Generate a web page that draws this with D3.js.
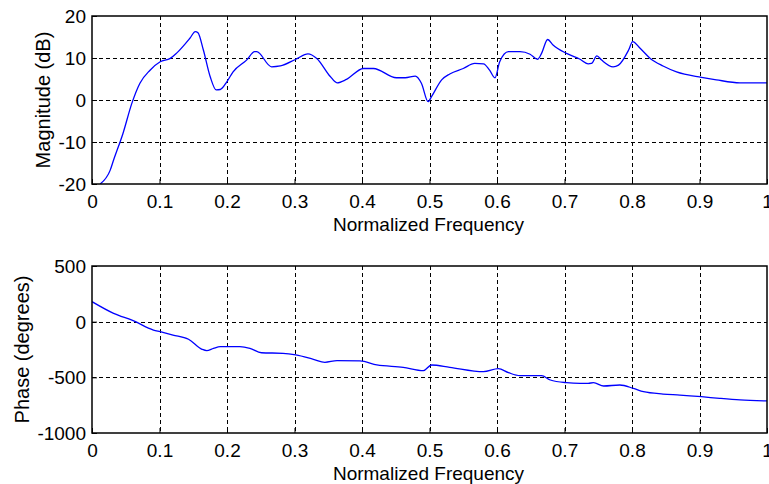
<!DOCTYPE html>
<html>
<head>
<meta charset="utf-8">
<script src="https://cdn.jsdelivr.net/npm/d3@7"></script>
<style>
html,body{margin:0;padding:0;background:#fff;}
svg{display:block;}
text{font-family:"Liberation Sans",Arial,sans-serif;fill:#000;}
</style>
</head>
<body>
<svg id="chart" width="769" height="484"></svg>
<script>
// ---- Data ----
const freqTicks = [0,0.1,0.2,0.3,0.4,0.5,0.6,0.7,0.8,0.9,1];
const freqTickLabels = ["0","0.1","0.2","0.3","0.4","0.5","0.6","0.7","0.8","0.9","1"];
const magTicks = [-20,-10,0,10,20];
const magTickLabels = ["-20","-10","0","10","20"];
const phaseTicks = [-1000,-500,0,500];
const phaseTickLabels = ["-1000","-500","0","500"];

const magFreq = [0.012,0.027,0.032,0.046,0.059,0.071,0.086,0.101,0.116,0.125,0.145,0.153,0.157,0.165,0.175,0.184,0.190,0.200,0.209,0.229,0.241,0.244,0.266,0.279,0.302,0.320,0.333,0.353,0.363,0.377,0.402,0.417,0.451,0.464,0.479,0.488,0.498,0.503,0.518,0.530,0.550,0.567,0.580,0.589,0.597,0.604,0.617,0.634,0.649,0.660,0.666,0.675,0.683,0.703,0.723,0.735,0.740,0.748,0.755,0.772,0.780,0.795,0.801,0.812,0.827,0.846,0.866,0.903,0.925,0.960,1.0];
const magDb = [-20,-16.7,-14.3,-7.9,-0.8,4.0,7.1,9.1,9.9,11.1,14.7,16.3,16.0,11.9,5.6,2.4,2.5,4.4,6.7,9.5,11.5,11.5,7.9,8.1,9.7,11.0,9.9,5.6,4.1,4.9,7.5,7.5,5.3,5.3,5.7,4.0,-0.4,0.8,4.8,6.2,7.5,8.7,8.6,7.1,5.3,9.1,11.5,11.5,10.9,9.7,11.1,14.4,13.1,11.1,9.7,8.6,8.7,10.5,9.5,7.9,8.3,11.9,13.9,12.3,9.9,8.1,6.7,5.4,4.8,4.1,4.1];

const phaseFreq = [0,0.032,0.061,0.091,0.101,0.120,0.143,0.163,0.170,0.180,0.190,0.219,0.234,0.251,0.283,0.302,0.328,0.345,0.363,0.397,0.422,0.461,0.491,0.503,0.530,0.580,0.602,0.617,0.634,0.666,0.679,0.703,0.723,0.735,0.743,0.758,0.782,0.802,0.817,0.846,0.871,0.903,0.930,0.960,1.0];
const phaseDeg = [180,75,9,-75,-90,-120,-158,-248,-260,-240,-225,-225,-240,-279,-284,-299,-338,-365,-350,-353,-389,-410,-440,-389,-410,-449,-422,-458,-485,-485,-524,-548,-554,-554,-548,-578,-569,-599,-629,-650,-659,-674,-689,-703,-712];

// ---- Drawing ----
const svg = d3.select("#chart");
const FONT = 19;
const YLABEL_FONT = 20;

function panel(opts){
  const {top,bottom,left,right,yDomain,yTicks,yTickLabels,xs,ys,ylabel,ylabelX} = opts;
  const x = d3.scaleLinear().domain([0,1]).range([left,right]);
  const y = d3.scaleLinear().domain(yDomain).range([bottom,top]);
  const g = svg.append("g");

  // grid
  const grid = g.append("g").attr("stroke","#000").attr("stroke-width",1).attr("stroke-dasharray","4,3").attr("shape-rendering","crispEdges");
  freqTicks.slice(1,-1).forEach(t=>{
    grid.append("line").attr("x1",Math.round(x(t))+0.5).attr("x2",Math.round(x(t))+0.5).attr("y1",top).attr("y2",bottom);
  });
  yTicks.slice(1,-1).forEach(t=>{
    grid.append("line").attr("y1",Math.round(y(t))+0.5).attr("y2",Math.round(y(t))+0.5).attr("x1",left).attr("x2",right);
  });

  // data line
  const clipId = "clip"+top;
  svg.append("clipPath").attr("id",clipId).append("rect").attr("x",left).attr("y",top).attr("width",right-left).attr("height",bottom-top);
  const pts = xs.map((v,i)=>[v,ys[i]]);
  g.append("path").datum(pts)
    .attr("clip-path","url(#"+clipId+")")
    .attr("fill","none").attr("stroke","#0000ff").attr("stroke-width",1.3)
    .attr("d", d3.line().x(d=>x(d[0])).y(d=>y(d[1])).curve(d3.curveMonotoneX));

  // axes (inward ticks, MATLAB style)
  const axB = d3.axisBottom(x).tickValues(freqTicks).tickFormat((d,i)=>freqTickLabels[i]).tickSizeInner(-5).tickSizeOuter(0).tickPadding(11);
  const axL = d3.axisLeft(y).tickValues(yTicks).tickFormat((d,i)=>yTickLabels[i]).tickSizeInner(-5).tickSizeOuter(0).tickPadding(6);
  const gb = g.append("g").attr("transform",`translate(0,${bottom})`).call(axB);
  const gl = g.append("g").attr("transform",`translate(${left},0)`).call(axL);
  [gb,gl].forEach(a=>{
    a.select(".domain").remove();
    a.selectAll("line").attr("stroke","#000");
    a.selectAll("text").attr("font-size",FONT).attr("font-family","'Liberation Sans',Arial,sans-serif").attr("fill","#000");
  });
  gl.selectAll("text").attr("dy","0.35em");

  // frame
  g.append("rect").attr("x",left).attr("y",top).attr("width",right-left).attr("height",bottom-top)
    .attr("fill","none").attr("stroke","#000").attr("stroke-width",1.5);

  // labels
  g.append("text").attr("x",(left+right)/2-1).attr("y",bottom+47)
    .attr("text-anchor","middle").attr("font-size",FONT).text("Normalized Frequency");
  g.append("text").attr("transform",`translate(${ylabelX},${(top+bottom)/2}) rotate(-90)`)
    .attr("text-anchor","middle").attr("dy","0.35em").attr("font-size",YLABEL_FONT).text(ylabel);
}

panel({top:16,bottom:184,left:92,right:767,yDomain:[-20,20],yTicks:magTicks,yTickLabels:magTickLabels,xs:magFreq,ys:magDb,ylabel:"Magnitude (dB)",ylabelX:43});
panel({top:266,bottom:433,left:92,right:767,yDomain:[-1000,500],yTicks:phaseTicks,yTickLabels:phaseTickLabels,xs:phaseFreq,ys:phaseDeg,ylabel:"Phase (degrees)",ylabelX:22});
</script>
</body>
</html>
